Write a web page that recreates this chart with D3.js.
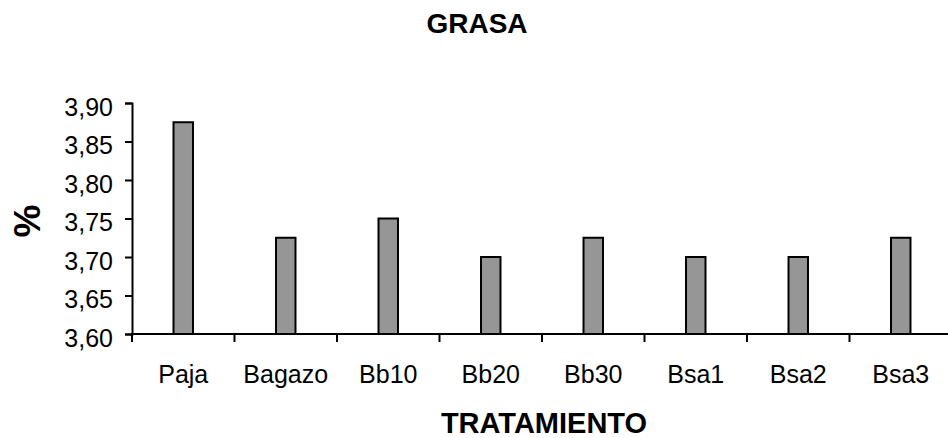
<!DOCTYPE html>
<html>
<head>
<meta charset="utf-8">
<script src="https://cdn.jsdelivr.net/npm/d3@7"></script>
<style>
  html, body { margin: 0; padding: 0; background: #fff; }
  svg { display: block; font-family: "Liberation Sans", Arial, sans-serif; }
</style>
</head>
<body>
<svg id="chart" width="948" height="438"></svg>
<script>
// Fat content (%) per treatment
const categories = ["Paja", "Bagazo", "Bb10", "Bb20", "Bb30", "Bsa1", "Bsa2", "Bsa3"];
const values = [3.875, 3.725, 3.75, 3.70, 3.725, 3.70, 3.70, 3.725];
const yTicks = [3.60, 3.65, 3.70, 3.75, 3.80, 3.85, 3.90];
const titleText = "GRASA";
const xTitle = "TRATAMIENTO";
const yTitle = "%";

const svg = d3.select("#chart");
const plot = { left: 132, right: 952, top: 103, bottom: 334 };

const x = d3.scaleBand().domain(categories).range([plot.left, plot.right]).padding(0);
const y = d3.scaleLinear().domain([3.60, 3.90]).range([plot.bottom, plot.top]);

const locale = d3.formatLocale({ decimal: ",", thousands: ".", grouping: [3], currency: ["", ""] });
const fmt = locale.format(".2f");

// bars
const barW = x.bandwidth() * 0.19;
svg.append("g").selectAll("rect").data(categories).join("rect")
  .attr("x", (c) => x(c) + (x.bandwidth() - barW) / 2)
  .attr("y", (c, i) => y(values[i]))
  .attr("width", barW)
  .attr("height", (c, i) => y(3.60) - y(values[i]))
  .attr("fill", "#969696")
  .attr("stroke", "#000")
  .attr("stroke-width", 2);

// y axis
const yAxis = svg.append("g")
  .attr("transform", `translate(${plot.left},0)`)
  .call(d3.axisLeft(y).tickValues(yTicks).tickFormat(fmt).tickSize(7).tickPadding(12));
yAxis.select(".domain").attr("stroke", "#000").attr("stroke-width", 2);
yAxis.selectAll(".tick line").attr("stroke", "#000").attr("stroke-width", 2);
yAxis.selectAll(".tick text")
  .attr("font-size", 25).attr("fill", "#000")
  .attr("font-family", "Liberation Sans, Arial, sans-serif")
  .attr("dy", "0.48em");

// x axis: line plus ticks on category boundaries
const xAxis = svg.append("g");
xAxis.append("line")
  .attr("x1", plot.left - 1).attr("x2", plot.right)
  .attr("y1", plot.bottom).attr("y2", plot.bottom)
  .attr("stroke", "#000").attr("stroke-width", 2);
const bounds = categories.map((c) => x(c)).concat([x.range()[1]]);
xAxis.selectAll("line.tk").data(bounds).join("line")
  .attr("class", "tk")
  .attr("x1", (d) => d).attr("x2", (d) => d)
  .attr("y1", plot.bottom).attr("y2", plot.bottom + 8)
  .attr("stroke", "#000").attr("stroke-width", 2);
xAxis.selectAll("text").data(categories).join("text")
  .attr("x", (c) => x(c) + x.bandwidth() / 2)
  .attr("y", 383)
  .attr("text-anchor", "middle")
  .attr("font-size", 25)
  .attr("fill", "#000")
  .text((c) => c);

// titles
svg.append("text")
  .attr("x", 477).attr("y", 33)
  .attr("text-anchor", "middle")
  .attr("font-size", 28).attr("font-weight", "bold")
  .text(titleText);

svg.append("text")
  .attr("x", 544).attr("y", 433)
  .attr("text-anchor", "middle")
  .attr("font-size", 29).attr("font-weight", "bold")
  .text(xTitle);

svg.append("text")
  .attr("transform", "translate(40,221) rotate(-90)")
  .attr("text-anchor", "middle")
  .attr("font-size", 37).attr("font-weight", "bold")
  .text(yTitle);
</script>
</body>
</html>
